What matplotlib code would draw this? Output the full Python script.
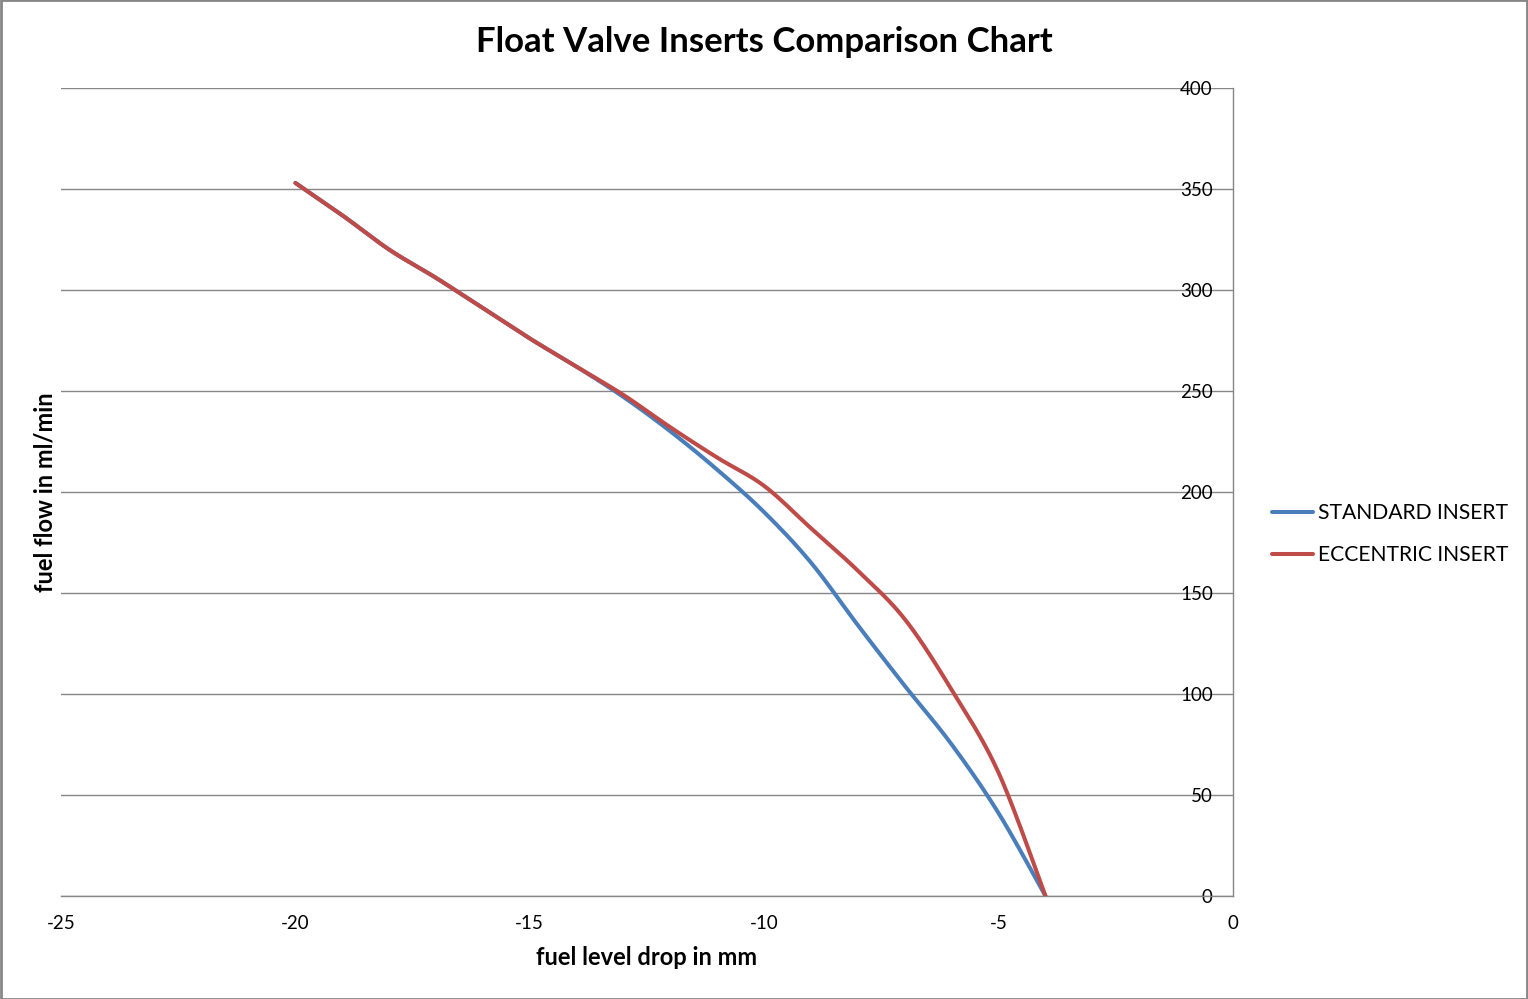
import numpy as np
import matplotlib
matplotlib.use("Agg")
import matplotlib.pyplot as plt
from matplotlib.patches import Rectangle

# ---- data ----
drop_mm = [-20, -19, -18, -17, -16, -15, -14, -13, -12, -11, -10, -9, -8, -7, -6, -5, -4]
standard_flow = [353, 337, 320, 306, 291, 276, 262, 247, 230, 211, 190, 165, 134, 104, 75, 41, 0]
eccentric_flow = [353, 337, 320, 306, 291, 276, 262, 248, 232, 217, 203, 182, 161, 137, 102, 61, 0]
series_names = ["STANDARD INSERT", "ECCENTRIC INSERT"]
x_ticks = [-25, -20, -15, -10, -5, 0]
y_ticks = [0, 50, 100, 150, 200, 250, 300, 350, 400]


def smooth(xs, ys, n=30):
    """Excel-style smoothed line: Bezier segments with Catmull-Rom control points."""
    p = np.column_stack([xs, ys]).astype(float)
    out = []
    for i in range(len(p) - 1):
        p0 = p[i - 1] if i > 0 else p[i]
        p1 = p[i]
        p2 = p[i + 1]
        p3 = p[i + 2] if i + 2 < len(p) else p[i + 1]
        c1 = p1 + (p2 - p0) / 6.0
        c2 = p2 - (p3 - p1) / 6.0
        t = np.linspace(0, 1, n, endpoint=(i == len(p) - 2))[:, None]
        seg = ((1 - t) ** 3) * p1 + 3 * ((1 - t) ** 2) * t * c1 + 3 * (1 - t) * t ** 2 * c2 + t ** 3 * p2
        out.append(seg)
    out = np.vstack(out)
    return out[:, 0], out[:, 1]


plt.rcParams['font.family'] = ['Lato', 'DejaVu Sans']
plt.rcParams['axes.unicode_minus'] = False

W, H = 1528, 999
fig = plt.figure(figsize=(W / 100, H / 100), dpi=100)
ax = fig.add_axes([61 / W, 1 - 896 / H, (1233 - 61) / W, (896 - 88) / H])

grid_c = '#868686'
blue = '#4A7EBB'
red = '#BE4B48'

for val in y_ticks:
    ax.axhline(val, color=grid_c, lw=1.0, zorder=1)

sx, sy = smooth(drop_mm, standard_flow)
ex, ey = smooth(drop_mm, eccentric_flow)
ax.plot(sx, sy, color=blue, lw=2.9, solid_capstyle='round', label=series_names[0], zorder=3)
ax.plot(ex, ey, color=red, lw=2.9, solid_capstyle='round', label=series_names[1], zorder=4)

ax.set_xlim(-25, 0)
ax.set_ylim(0, 400)
ax.set_xticks(x_ticks)
ax.set_yticks(y_ticks)

for s in ['left', 'top']:
    ax.spines[s].set_visible(False)
ax.spines['right'].set_color(grid_c)
ax.spines['bottom'].set_color(grid_c)
ax.spines['right'].set_linewidth(1.0)
ax.spines['bottom'].set_linewidth(1.0)

ax.tick_params(axis='x', length=0, pad=14, labelsize=13.5)
ax.yaxis.tick_right()
ax.tick_params(axis='y', length=0, pad=-14.5, labelsize=13.5, right=False, left=False,
               labelright=True, labelleft=False)
for lab in ax.get_yticklabels():
    lab.set_horizontalalignment('right')

ax.set_xlabel('fuel level drop in mm', fontsize=17, fontweight='bold', labelpad=10)
ax.set_ylabel('fuel flow in ml/min', fontsize=17, fontweight='bold', labelpad=3)
ax.yaxis.set_label_position('left')

fig.text(764 / W, 1 - 42 / H, 'Float Valve Inserts Comparison Chart', ha='center', va='center',
         fontsize=25, fontweight='bold')

leg = ax.legend(loc='center left', bbox_to_anchor=(1253 / W, 1 - 534 / H), bbox_transform=fig.transFigure,
                frameon=False, fontsize=15.2, handlelength=1.95, handletextpad=0.25, labelspacing=1.05)

fig.patches.append(Rectangle((0.0005, 0.0005), 0.999, 0.999, transform=fig.transFigure,
                             fill=False, edgecolor=grid_c, lw=2.0))

fig.savefig('out.png', dpi=100, facecolor='white')
